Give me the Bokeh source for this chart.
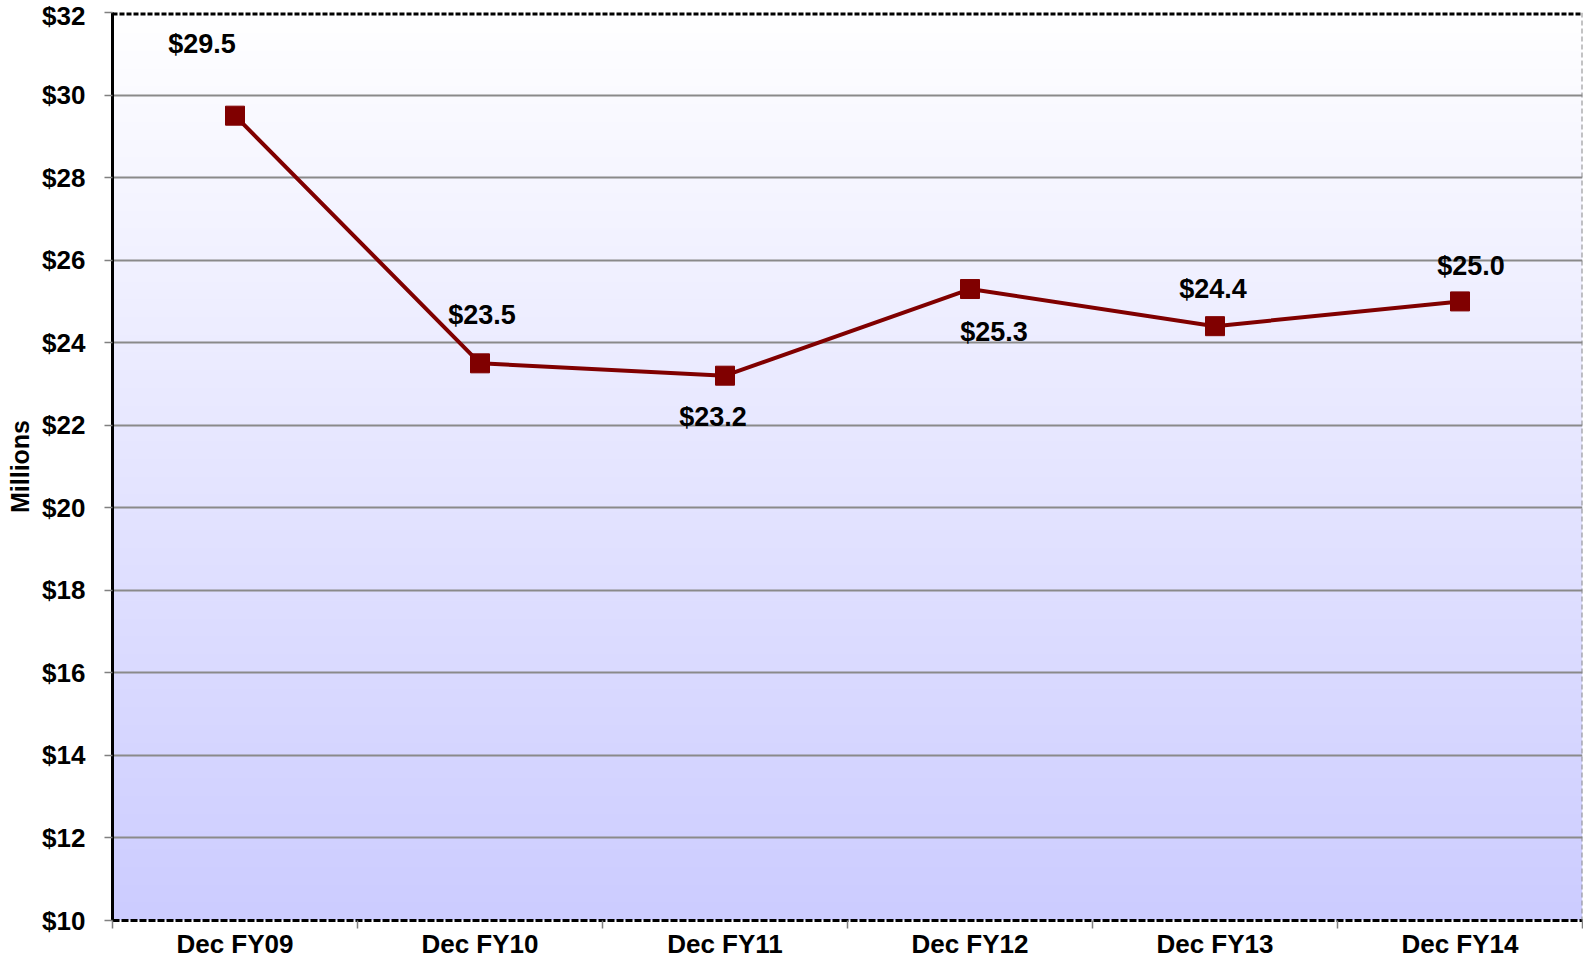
import numpy as np
from bokeh.plotting import figure
from bokeh.models import FixedTicker, Span, ColumnDataSource, Range1d
from bokeh.embed import file_html
from bokeh.resources import INLINE
from bokeh.core.properties import value

# ---- data ----
categories = ["Dec FY09", "Dec FY10", "Dec FY11", "Dec FY12", "Dec FY13", "Dec FY14"]
values = [29.5, 23.5, 23.2, 25.3, 24.4, 25.0]
value_labels = ["$29.5", "$23.5", "$23.2", "$25.3", "$24.4", "$25.0"]
y_ticks = [10, 12, 14, 16, 18, 20, 22, 24, 26, 28, 30, 32]
y_tick_labels = ["$10", "$12", "$14", "$16", "$18", "$20", "$22", "$24", "$26", "$28", "$30", "$32"]

# ---- label placement (screen px, style) ----
label_dx = [-33, 2, -12, 24, -2, 11]
label_dy = [-72, -48, 41, 43, -37, -35]

FONT = "Liberation Sans"
x_idx = list(range(len(categories)))
y_min, y_max = y_ticks[0], y_ticks[-1]
x_min, x_max = -0.5, len(categories) - 0.5

p = figure(width=1583, height=961, output_backend="svg", toolbar_location=None,
           x_range=Range1d(x_min, x_max), y_range=Range1d(y_min, y_max),
           min_border_left=112, min_border_right=1, min_border_top=12, min_border_bottom=40)
p.outline_line_color = None
p.background_fill_color = "white"
p.border_fill_color = "white"

# gradient background (white top -> lavender bottom)
n = 256
t = np.linspace(0, 1, n)  # 0 bottom, 1 top
r = (204 + (255 - 204) * t).astype(np.uint32)
g = (204 + (255 - 204) * t).astype(np.uint32)
b = np.full(n, 255, dtype=np.uint32)
a = np.full(n, 255, dtype=np.uint32)
img = (a << 24) | (b << 16) | (g << 8) | r
img = img.reshape(n, 1).astype(np.uint32)
p.image_rgba(image=[img], x=x_min, y=y_min, dw=x_max - x_min, dh=y_max - y_min, level="image")

# grid
p.xgrid.grid_line_color = None
p.ygrid.ticker = FixedTicker(ticks=y_ticks)
p.ygrid.grid_line_color = "#8a8a8a"
p.ygrid.grid_line_width = 2

# x axis
xa = p.xaxis[0]
xa.ticker = FixedTicker(ticks=x_idx, minor_ticks=[i - 0.5 for i in range(len(categories) + 1)])
xa.major_label_overrides = {i: c for i, c in zip(x_idx, categories)}
xa.major_tick_line_color = None
xa.minor_tick_out = 8
xa.minor_tick_in = 0
xa.minor_tick_line_color = "#808080"
xa.minor_tick_line_width = 1.5
xa.axis_line_color = "black"
xa.axis_line_width = 3
xa.axis_line_dash = "7 2"
xa.major_label_standoff = 0
xa.major_label_text_font = FONT
xa.major_label_text_font_style = "bold"
xa.major_label_text_font_size = "26px"
xa.major_label_text_color = "black"

# y axis
ya = p.yaxis[0]
ya.ticker = FixedTicker(ticks=y_ticks)
ya.major_label_overrides = {v: s for v, s in zip(y_ticks, y_tick_labels)}
ya.minor_tick_line_color = None
ya.major_tick_out = 8
ya.major_tick_in = 0
ya.major_tick_line_color = "#808080"
ya.major_tick_line_width = 1.5
ya.axis_line_color = "black"
ya.axis_line_width = 3
ya.major_label_standoff = 19
ya.major_label_text_font = FONT
ya.major_label_text_font_style = "bold"
ya.major_label_text_font_size = "26px"
ya.major_label_text_color = "black"
ya.axis_label = "Millions"
ya.axis_label_text_font = FONT
ya.axis_label_text_font_style = "bold"
ya.axis_label_text_font_size = "25px"
ya.axis_label_text_color = "black"
ya.axis_label_standoff = 5

# frame top / right edges
p.add_layout(Span(location=y_max, dimension="width", line_color="black", line_width=6, line_dash="5 2"))
p.add_layout(Span(location=x_max, dimension="height", line_color="#888888", line_width=2, line_dash="5 3"))

src = ColumnDataSource(dict(x=x_idx, y=values, label=value_labels, dx=label_dx, dy=label_dy))
p.line(x="x", y="y", source=src, line_color="#800000", line_width=4)
p.scatter(x="x", y="y", source=src, marker="square", size=19,
          fill_color="#800000", line_color="#800000")
p.text(x="x", y="y", text="label", x_offset="dx", y_offset="dy", source=src,
       text_font=value(FONT), text_font_style="bold", text_font_size="27px",
       text_align="center", text_baseline="middle", text_color="black")

open("out.html", "w").write(file_html(p, INLINE))
